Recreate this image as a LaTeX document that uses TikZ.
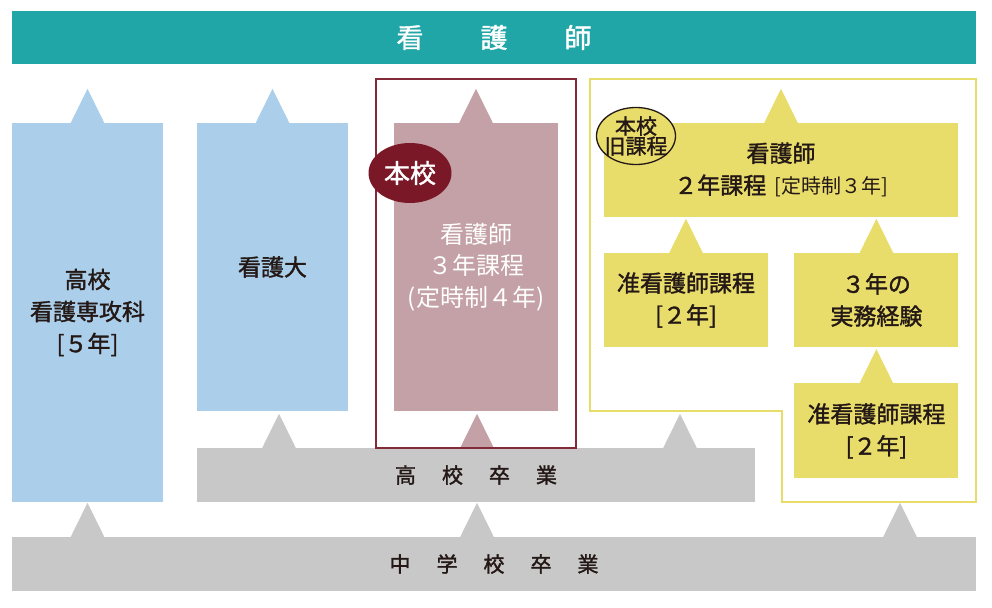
\documentclass[tikz,border=0pt]{standalone}
\usepackage{fontspec}
\newfontfamily\jp{Noto Sans CJK JP}
\newfontfamily\jpm{Noto Sans CJK JP}[FakeBold=1.5]
\usepackage{tikz}
\usetikzlibrary{calc}
\usetikzlibrary{positioning}
\usetikzlibrary{shapes.geometric}

\definecolor{teal1}{RGB}{33,166,168}
\definecolor{sky}{RGB}{171,207,234}
\definecolor{rose}{RGB}{196,161,166}
\definecolor{wine}{RGB}{122,24,40}
\definecolor{winefr}{RGB}{130,42,58}
\definecolor{mustard}{RGB}{232,221,106}
\definecolor{ash}{RGB}{200,200,200}
\definecolor{ink}{RGB}{35,24,21}

\begin{document}
\begin{tikzpicture} [x=1pt, y=-1pt,
                box/.style = {inner sep=0pt, align=center, text=ink, font=\jpm\fontsize{23}{32}\selectfont},
                bar/.style = {fill=ash, minimum height=54pt, inner sep=0pt, text=ink, font=\jpm\fontsize{21}{21}\selectfont},
                badge/.style = {ellipse, inner sep=-8pt, align=center}
            ]
            \useasboundingbox [fill=white] (0,0) rectangle (992,607);
            \node (kangoshi) at (494,37.5) [fill=teal1, minimum width=964pt, minimum height=53pt, inner sep=0pt, text=white, font=\jpm\fontsize{27}{27}\selectfont] {看\hspace{57pt}護\hspace{57pt}師};
            % left columns
            \node (senkoka) at (87.5,312.5) [box, fill=sky, minimum width=151pt, minimum height=379pt] {高校\\看護専攻科\\{[５年]}};
            \node (kangodai) at (272.5,267) [box, fill=sky, minimum width=151pt, minimum height=288pt] {看護大};
            \node (sannen) at (476,267) [box, fill=rose, minimum width=164pt, minimum height=288pt, text=white, font=\jp\fontsize{24}{31.5}\selectfont] {看護師\\３年課程\\(定時制４年)};
            % yellow courses
            \node (ninen) at (781,170) [box, fill=mustard, minimum width=354pt, minimum height=94pt] {看護師\\２年課程\hspace{8pt}{\jp\fontsize{20}{32}\selectfont[定時制３年]}};
            \node (junkan1) at (686,300) [box, fill=mustard, minimum width=164pt, minimum height=94pt] {准看護師課程\\{[２年]}};
            \node (jitsumu) [box, fill=mustard, minimum width=164pt, minimum height=94pt, right=26pt of junkan1] {３年の\\実務経験};
            \node (junkan2) [box, fill=mustard, minimum width=164pt, minimum height=95pt, below=36pt of jitsumu] {准看護師課程\\{[２年]}};
            % bars
            \node (kosotsu) at (476,475) [bar, minimum width=558pt] {高\hspace{26pt}校\hspace{26pt}卒\hspace{26pt}業};
            \node (chusotsu) at (494,564) [bar, minimum width=964pt] {中\hspace{26pt}学\hspace{26pt}校\hspace{26pt}卒\hspace{26pt}業};
            % pointers
            \foreach \c/\p in {sky/senkoka.north, sky/kangodai.north, rose/sannen.north, mustard/ninen.north,
                               mustard/junkan1.north, mustard/jitsumu.north, mustard/junkan2.north,
                               ash/{279,0 |- kosotsu.north}, rose/{477,0 |- kosotsu.north}, ash/{680,0 |- kosotsu.north},
                               ash/{senkoka.south |- chusotsu.north}, ash/{477,0 |- chusotsu.north}, ash/{900,0 |- chusotsu.north}}
                \fill [\c] ($(\p)+(-17,0.5)$) -- ($(\p)+(17,0.5)$) -- ($(\p)+(0,-34)$) -- cycle;
            % frames
            \draw [winefr, line width=1.5pt] (376,79) rectangle (576,448);
            \draw [mustard, line width=1.5pt] (590,79) -- (976,79) -- (976,502) -- (782,502) -- (782,411) -- (590,411) -- cycle;
            % badges
            \node (honko) at (410,173) [badge, fill=wine, minimum width=83pt, minimum height=60pt, text=white, font=\jpm\fontsize{26}{26}\selectfont] {本校};
            \node (kyukatei) at (636,136) [badge, fill=mustard, draw=ink, line width=1.3pt, minimum width=79pt, minimum height=57pt, text=ink, font=\jpm\fontsize{21}{20}\selectfont] {本校\\旧課程};
        \end{tikzpicture}
\end{document}
